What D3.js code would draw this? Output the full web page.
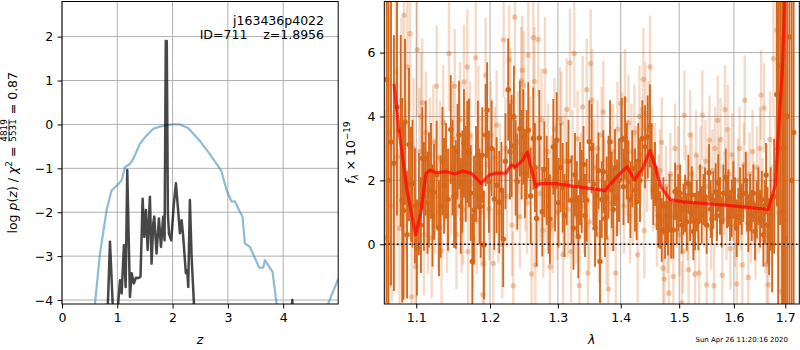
<!DOCTYPE html>
<html>
<head>
<meta charset="utf-8">
<script src="https://cdn.jsdelivr.net/npm/d3@7"></script>
<style>
body { margin: 0; background: #fff; }
svg { font-family: "DejaVu Sans", sans-serif; }
text { white-space: pre; }
</style>
</head>
<body>
<svg id="chart" width="800" height="350"></svg>
<script>
// left panel: redshift probability curves
var chiZ = [0.50,0.596,0.687,0.807,0.897,0.988,1.079,1.139,1.229,1.29,1.41,1.53,1.65,1.77,1.89,2.00,2.13,2.28,2.49,2.67,2.88,2.977,3.067,3.127,3.217,3.265,3.307,3.398,3.566,3.64,3.669,3.808,3.88,3.95,4.30,4.62,4.813,4.995];
var chiLogP = [-5.6,-4.08,-2.94,-1.95,-1.50,-1.40,-1.27,-0.97,-0.90,-0.78,-0.44,-0.25,-0.10,-0.05,-0.02,0.0,0.0,-0.08,-0.37,-0.67,-1.05,-1.50,-1.76,-1.75,-1.99,-2.10,-2.71,-2.79,-3.26,-3.26,-3.09,-3.36,-4.08,-4.9,-5.6,-4.9,-4.08,-3.52];

var pzZ = [0.80,0.868,0.916,0.96,1.048,1.079,1.12,1.151,1.18,1.229,1.26,1.30,1.337,1.38,1.42,1.458,1.488,1.518,1.549,1.59,1.62,1.65,1.668,1.71,1.753,1.79,1.83,1.855,1.877,1.895,1.915,1.935,1.975,2.024,2.06,2.10,2.133,2.163,2.19,2.24,2.265,2.283,2.313,2.344,2.386,2.45,4.12,4.165,4.21,4.995];
var pzLogP = [-5.2,-2.67,-4.07,-5.0,-3.55,-3.85,-2.75,-3.70,-1.04,-3.93,-3.39,-3.62,-3.49,-3.5,-3.47,-1.69,-2.56,-1.95,-2.86,-1.65,-3.17,-2.26,-2.1,-2.94,-2.14,-2.79,-2.10,-2.64,1.90,1.90,-2.03,-2.49,-2.64,-1.80,-1.34,-1.95,-2.48,-2.18,-2.52,-3.39,-3.32,-3.70,-1.72,-3.02,-4.08,-5.2,-5.2,-4.0,-5.2,-5.2];

// right panel: spectrum (dark and light grism), model
var darkLam = [1.0623,1.0645,1.0677,1.0714,1.0753,1.0800,1.0819,1.0837,1.0855,1.0881,
  1.0906,1.0932,1.0951,1.0983,1.1009,1.1035,1.1061,1.1078,1.1100,1.1122,
  1.1146,1.1166,1.1193,1.1213,1.1233,1.1268,1.1299,1.1321,1.1345,1.1366,
  1.1393,1.1420,1.1457,1.1481,1.1501,1.1525,1.1549,1.1569,1.1593,1.1614,
  1.1637,1.1661,1.1682,1.1706,1.1730,1.1752,1.1775,1.1803,1.1830,1.1851,
  1.1868,1.1890,1.1914,1.1938,1.1959,1.1985,1.2023,1.2060,1.2094,1.2131,
  1.2163,1.2188,1.2220,1.2260,1.2285,1.2310,1.2343,1.2368,1.2392,1.2431,
  1.2456,1.2480,1.2505,1.2530,1.2554,1.2589,1.2628,1.2653,1.2678,1.2718,
  1.2763,1.2793,1.2829,1.2856,1.2879,1.2930,1.2956,1.2982,1.3010,1.3041,
  1.3074,1.3102,1.3136,1.3164,1.3213,1.3241,1.3265,1.3293,1.3317,1.3344,
  1.3371,1.3399,1.3423,1.3450,1.3491,1.3529,1.3555,1.3582,1.3609,1.3638,
  1.3662,1.3691,1.3716,1.3743,1.3771,1.3800,1.3825,1.3852,1.3879,1.3906,
  1.3939,1.3972,1.4016,1.4046,1.4071,1.4101,1.4126,1.4162,1.4192,1.4238,
  1.4266,1.4293,1.4322,1.4361,1.4407,1.4453,1.4492,1.4521,1.4549,1.4578,
  1.4607,1.4635,1.4665,1.4694,1.4723,1.4752,1.4778,1.4804,1.4830,1.4857,
  1.4897,1.4927,1.4957,1.4985,1.5015,1.5045,1.5074,1.5104,1.5134,1.5163,
  1.5194,1.5224,1.5253,1.5283,1.5314,1.5343,1.5373,1.5404,1.5433,1.5464,
  1.5495,1.5537,1.5568,1.5592,1.5616,1.5660,1.5684,1.5708,1.5740,1.5772,
  1.5802,1.5847,1.5871,1.5896,1.5927,1.5959,1.5989,1.6021,1.6053,1.6084,
  1.6116,1.6148,1.6179,1.6225,1.6249,1.6274,1.6307,1.6340,1.6371,1.6404,
  1.6437,1.6468,1.6501,1.6535,1.6566,1.6595,1.6619,1.6649,1.6678,1.6708,
  1.6738,1.6777,1.6831,1.6857,1.6896,1.6936,1.6966,1.6996,1.7036,1.7082,
  1.7127,1.7168];
var darkFlux = [5.16,2.0,3.2,2.54,4.3,3.55,1.38,1.06,3.83,0.3,
  3.12,1.88,1.9,1.2,-0.1,1.26,0.6,2.69,1.5,2.69,
  1.3,1.70,2.3,0.9,1.64,2.17,0.5,1.18,2.6,1.83,
  2.3,1.4,3.59,2.4,1.49,1.56,2.9,3.42,1.2,1.96,
  3.16,2.2,2.89,2.86,1.6,-0.54,1.07,2.2,2.79,1.5,
  1.18,2.79,-0.02,3.42,4.2,1.96,3.0,1.42,1.85,1.32,
  1.7,0.16,2.6,4.84,2.9,3.08,3.99,2.4,1.96,3.62,
  2.8,3.36,2.22,2.8,3.57,1.51,3.31,2.4,0.81,3.33,
  1.02,2.34,2.0,1.2,0.79,3.05,1.8,3.26,1.3,2.4,
  1.77,0.9,1.9,2.6,1.38,0.5,2.18,1.4,0.24,1.9,
  1.65,2.5,0.9,1.38,3.21,3.0,1.88,0.5,1.54,2.3,
  -0.54,1.4,2.27,0.8,1.45,2.1,3.21,1.7,1.09,2.4,
  1.45,2.0,3.28,1.8,3.33,2.6,1.96,1.4,2.37,1.70,
  1.33,2.6,2.0,3.31,3.05,3.36,3.70,2.6,1.70,2.2,
  1.45,0.9,0.76,0.45,1.2,0.45,0.9,0.45,1.3,0.45,
  0.45,1.65,0.9,1.3,1.6,0.6,1.1,1.28,0.7,1.9,
  1.0,1.54,0.4,0.71,1.2,0.71,1.6,0.92,1.4,1.5,
  0.6,2.24,1.1,0.8,1.38,1.64,0.9,1.92,1.2,0.7,
  1.6,2.1,1.3,1.45,0.9,1.12,1.7,1.3,0.5,0.86,
  1.5,1.1,1.6,2.0,1.2,0.66,1.3,0.9,1.6,0.4,
  1.1,1.5,0.8,1.4,0.3,1.0,2.17,0.6,0.24,1.1,
  0.0,1.5,4.69,3.0,5.6,1.0,3.0,0.19,4.0,6.49,
  2.0,3.5];
var darkErr = [7.0,6.0,4.5,4.0,3.4,3.0,3.2,2.8,2.6,2.0,
  2.4,1.8,2.0,1.8,1.5,1.6,1.5,1.6,1.7,1.8,
  1.6,1.8,1.5,1.6,1.5,1.7,1.5,1.6,1.7,1.5,
  1.5,1.6,1.7,1.5,1.6,1.7,1.5,1.7,1.5,1.6,
  1.7,1.5,1.6,1.7,1.5,1.5,1.7,1.5,1.7,1.5,
  1.6,1.5,1.7,1.6,1.5,1.6,1.5,1.6,1.5,1.6,
  1.5,1.5,1.5,1.6,1.5,1.6,1.6,1.5,1.5,1.5,
  1.4,1.5,1.4,1.4,1.5,1.5,1.6,1.4,1.5,1.5,
  1.4,1.5,1.4,1.5,1.4,1.5,1.4,1.5,1.4,1.4,
  1.4,1.3,1.3,1.3,1.4,1.3,1.3,1.2,1.3,1.3,
  1.3,1.2,1.3,1.3,1.3,1.4,1.3,1.2,1.3,1.2,
  1.3,1.2,1.3,1.2,1.3,1.3,1.3,1.2,1.3,1.2,
  1.2,1.3,1.3,1.2,1.3,1.2,1.3,1.2,1.2,1.3,
  1.2,1.2,1.3,1.2,1.3,1.3,1.3,1.2,1.1,1.0,
  1.0,1.0,0.9,1.0,0.9,0.9,0.9,0.8,0.9,0.9,
  0.9,0.9,0.9,0.9,0.9,0.9,0.8,0.9,0.9,0.9,
  0.9,0.9,0.9,0.9,0.8,0.9,0.9,0.9,0.8,0.9,
  0.9,0.9,0.9,0.8,0.9,0.9,0.8,0.9,0.9,0.8,
  0.9,0.9,0.8,0.9,0.8,0.9,0.9,0.8,0.9,0.9,
  0.9,0.8,0.9,0.9,0.8,0.9,0.9,0.8,0.9,0.9,
  0.9,0.9,0.9,0.9,1.0,1.0,1.0,1.2,1.2,1.3,
  1.5,1.8,3.5,6.0,5.0,7.0,8.0,8.0,9.0,9.0,
  10.0,10.0];

var lightLam = [1.0608,1.0649,1.0689,1.0735,1.0756,1.0785,1.0810,1.0842,1.0865,1.0884,
  1.0919,1.0941,1.0964,1.0992,1.1013,1.1041,1.1061,1.1078,1.1100,1.1126,
  1.1152,1.1180,1.1202,1.1223,1.1246,1.1268,1.1289,1.1312,1.1334,1.1356,
  1.1379,1.1406,1.1433,1.1461,1.1488,1.1511,1.1535,1.1556,1.1583,1.1604,
  1.1624,1.1637,1.1658,1.1682,1.1692,1.1720,1.1741,1.1761,1.1799,1.1812,
  1.1837,1.1858,1.1879,1.1900,1.1914,1.1938,1.1963,1.1992,1.2013,1.2046,
  1.2070,1.2094,1.2120,1.2141,1.2174,1.2194,1.2220,1.2242,1.2275,1.2292,
  1.2314,1.2333,1.2358,1.2380,1.2402,1.2431,1.2450,1.2465,1.2487,1.2512,
  1.2535,1.2554,1.2579,1.2604,1.2628,1.2646,1.2660,1.2683,1.2702,1.2728,
  1.2751,1.2778,1.2803,1.2826,1.2849,1.2879,1.2902,1.2925,1.2948,1.2971,
  1.2994,1.3032,1.3052,1.3078,1.3101,1.3135,1.3156,1.3187,1.3203,1.3226,
  1.3254,1.3281,1.3305,1.3333,1.3360,1.3386,1.3410,1.3450,1.3470,1.3491,
  1.3513,1.3534,1.3566,1.3598,1.3622,1.3646,1.3689,1.3716,1.3743,1.3767,
  1.3797,1.3825,1.3849,1.3874,1.3918,1.3947,1.3972,1.4000,1.4026,1.4054,
  1.4071,1.4104,1.4129,1.4154,1.4179,1.4204,1.4229,1.4255,1.4283,1.4313,
  1.4339,1.4378,1.4395,1.4415,1.4441,1.4466,1.4492,1.4518,1.4544,1.4578,
  1.4613,1.4639,1.4665,1.4694,1.4717,1.4740,1.4769,1.4795,1.4818,1.4844,
  1.4871,1.4897,1.4927,1.4953,1.4980,1.5006,1.5045,1.5068,1.5091,1.5122,
  1.5149,1.5167,1.5194,1.5221,1.5247,1.5283,1.5301,1.5328,1.5355,1.5382,
  1.5415,1.5446,1.5473,1.5495,1.5519,1.5546,1.5574,1.5601,1.5629,1.5647,
  1.5675,1.5697,1.5721,1.5749,1.5782,1.5814,1.5833,1.5861,1.5883,1.5908,
  1.5933,1.5965,1.5993,1.6021,1.6053,1.6078,1.6106,1.6135,1.6160,1.6188,
  1.6207,1.6240,1.6274,1.6297,1.6327,1.6356,1.6385,1.6414,1.6443,1.6472,
  1.6501,1.6521,1.6550,1.6579,1.6609,1.6632,1.6664,1.6698,1.6728,1.6763,
  1.6797,1.6831,1.6866,1.6910,1.6946,1.6982];
var lightFlux = [0.2,3.5,1.2,5.39,2.74,0.5,4.5,7.17,2.0,5.55,
  6.59,-1.64,3.0,-0.7,6.09,2.9,4.0,4.43,0.3,3.5,
  1.0,2.8,0.2,3.2,1.5,4.95,1.0,2.7,-0.2,3.8,
  2.2,0.9,5.97,2.0,3.3,4.95,0.3,2.6,3.9,0.8,
  1.07,5.08,2.5,5.55,-0.23,3.4,1.9,0.2,5.84,0.76,
  3.9,2.2,1.0,-1.58,-0.6,5.29,2.5,1.1,3.4,-0.6,
  2.7,3.73,1.0,2.2,0.0,6.4,3.0,1.5,5.78,4.44,
  0.6,-1.3,7.11,2.0,3.2,0.86,5.11,5.45,4.98,2.0,
  1.3,5.92,3.0,-0.93,6.47,5.1,-0.65,2.4,6.41,1.6,
  3.9,0.44,5.42,1.5,2.9,-0.7,1.9,0.6,3.6,2.3,
  1.0,3.94,3.8,-0.33,2.6,4.22,1.1,5.68,-0.23,2.7,
  5.97,0.9,3.3,-1.29,2.0,4.3,1.2,4.84,-0.9,0.7,
  5.66,4.51,2.4,1.0,3.0,0.3,3.42,4.14,1.8,0.2,
  -1.4,2.5,1.3,2.9,-0.9,3.6,1.8,4.41,3.26,1.2,
  4.51,2.4,3.8,0.9,2.9,1.5,3.5,2.2,-0.33,4.0,
  2.8,5.16,0.43,4.1,2.5,3.6,5.55,2.9,1.8,2.4,
  0.6,1.5,2.3,3.19,-0.75,-1.09,1.8,0.4,-1.53,2.2,
  0.9,-1.01,3.0,1.2,2.4,0.3,-1.84,-0.23,4.04,1.8,
  0.8,-0.8,3.42,2.2,1.0,-0.93,2.79,1.5,-0.9,2.4,
  4.04,1.2,2.6,-1.27,1.8,3.26,0.5,2.3,-1.3,3.0,
  1.2,3.88,2.0,3.28,-0.97,1.6,4.22,0.8,3.59,2.2,
  -0.13,2.8,1.4,0.6,-1.24,2.0,3.0,1.1,-0.65,2.5,
  4.51,1.6,-1.04,2.2,0.7,2.9,1.3,0.2,2.4,1.0,
  3.0,4.67,1.4,4.27,0.4,-0.63,-1.27,3.28,0.9,5.81,
  2.0,6.7,1.0,-1.48,3.0,0.78];
var lightErr = [4.0,3.5,3.0,2.8,2.8,2.5,2.6,2.5,2.3,2.4,
  2.4,2.2,2.2,2.1,2.1,2.0,2.0,2.0,1.9,1.9,
  1.9,1.8,1.9,1.8,1.8,1.9,1.8,1.8,1.8,1.8,
  1.7,1.8,1.8,1.7,1.8,1.8,1.7,1.7,1.8,1.7,
  1.7,1.8,1.7,1.8,1.7,1.7,1.6,1.7,1.8,1.7,
  1.7,1.6,1.7,1.7,1.7,1.8,1.7,1.6,1.7,1.7,
  1.6,1.7,1.6,1.6,1.7,1.8,1.6,1.6,1.7,1.7,
  1.6,1.7,1.8,1.6,1.6,1.6,1.7,1.7,1.7,1.6,
  1.6,1.8,1.6,1.6,1.8,1.7,1.6,1.6,1.8,1.5,
  1.6,1.5,1.7,1.5,1.5,1.6,1.5,1.5,1.6,1.5,
  1.5,1.6,1.6,1.6,1.5,1.6,1.5,1.7,1.6,1.5,
  1.7,1.5,1.5,1.6,1.5,1.6,1.5,1.6,1.6,1.5,
  1.7,1.6,1.5,1.5,1.5,1.5,1.5,1.6,1.5,1.5,
  1.6,1.5,1.5,1.5,1.5,1.5,1.5,1.6,1.5,1.5,
  1.6,1.5,1.5,1.5,1.5,1.5,1.5,1.5,1.5,1.6,
  1.5,1.6,1.5,1.6,1.5,1.5,1.6,1.4,1.4,1.4,
  1.3,1.3,1.3,1.4,1.3,1.3,1.3,1.3,1.3,1.3,
  1.3,1.3,1.4,1.3,1.3,1.3,1.3,1.3,1.4,1.3,
  1.3,1.3,1.4,1.3,1.3,1.3,1.4,1.3,1.3,1.3,
  1.4,1.3,1.3,1.3,1.3,1.4,1.3,1.3,1.3,1.3,
  1.3,1.4,1.3,1.3,1.3,1.3,1.4,1.3,1.4,1.3,
  1.3,1.3,1.3,1.3,1.3,1.3,1.3,1.3,1.3,1.3,
  1.4,1.3,1.3,1.3,1.3,1.3,1.3,1.3,1.3,1.3,
  1.3,1.4,1.3,1.4,1.3,1.3,1.4,1.5,1.6,1.8,
  2.0,2.2,2.5,3.0,3.5,4.0];

var modelLam = [1.0714,1.0778,1.0880,1.0992,1.1060,1.1127,1.1180,1.1267,1.1400,1.1508,
  1.1624,1.1738,1.1877,1.1990,1.2086,1.2229,1.2301,1.2373,1.2471,1.2544,
  1.2590,1.2668,1.2717,1.2969,1.3221,1.3480,1.3743,1.3940,1.4106,1.4229,
  1.4364,1.4491,1.4584,1.4677,1.4840,1.5064,1.5587,1.6133,1.6660,1.6800,
  1.6943,1.7005];
var modelFlux = [5.03,3.57,1.70,0.29,1.0,2.22,2.32,2.24,2.27,2.20,
  2.29,2.22,1.91,2.17,2.23,2.23,2.48,2.43,2.63,2.89,
  2.43,1.80,1.90,1.90,1.82,1.76,1.68,2.12,2.43,2.01,
  2.37,2.93,2.43,1.80,1.40,1.33,1.26,1.18,1.09,1.85,
  5.55,8.5];

var zTicks = [0, 1, 2, 3, 4];
var logPTicks = [-4, -3, -2, -1, 0, 1, 2];
var lamTicks = [1.1, 1.2, 1.3, 1.4, 1.5, 1.6, 1.7];
var fluxTicks = [0, 2, 4, 6];

var fontSize = 12.5;
var orange = "#d5661a";

var svg = d3.select("#chart");

var pL = {left: 62, right: 338.2, top: 1.5, bottom: 304};
var pR = {left: 384.3, right: 799.3, top: 1.5, bottom: 304};

var xz = d3.scaleLinear().domain([0, 4.995]).range([pL.left, pL.right]);
var yp = d3.scaleLinear().domain([-4.09, 2.80]).range([pL.bottom, pL.top]);
var xl = d3.scaleLog().domain([1.0593, 1.7283]).range([pR.left, pR.right]);
var yf = d3.scaleLinear().domain([-1.87, 7.6]).range([pR.bottom, pR.top]);

var defs = svg.append("defs");
[["clipL", pL], ["clipR", pR]].forEach(function(c) {
    defs.append("clipPath").attr("id", c[0]).append("rect")
        .attr("x", c[1].left).attr("y", c[1].top)
        .attr("width", c[1].right - c[1].left).attr("height", c[1].bottom - c[1].top);
});

//grid lines below everything else
function drawGrid(xs, ys, xt, yt, p) {
    var g = svg.append("g").attr("stroke", "#b0b0b0").attr("stroke-width", 1);
    g.selectAll("line.gx").data(xt).enter().append("line")
        .attr("x1", xs).attr("x2", xs).attr("y1", p.top).attr("y2", p.bottom);
    g.selectAll("line.gy").data(yt).enter().append("line")
        .attr("y1", ys).attr("y2", ys).attr("x1", p.left).attr("x2", p.right);
}
drawGrid(xz, yp, zTicks, logPTicks, pL);
drawGrid(xl, yf, lamTicks, fluxTicks, pR);

// ---- left panel curves
var gL = svg.append("g").attr("clip-path", "url(#clipL)");
var zLine = d3.line()
    .x(function(d) { return xz(d[0]); })
    .y(function(d) { return yp(d[1]); });

gL.append("path")
    .attr("d", zLine(d3.zip(chiZ, chiLogP)))
    .attr("fill", "none").attr("stroke", "#1f77b4")
    .attr("stroke-opacity", 0.5).attr("stroke-width", 2.2)
    .attr("stroke-linejoin", "round");

gL.append("path")
    .attr("d", zLine(d3.zip(pzZ, pzLogP)))
    .attr("fill", "none").attr("stroke", "#000")
    .attr("stroke-opacity", 0.72).attr("stroke-width", 2.5)
    .attr("stroke-linejoin", "round");

// ---- right panel spectrum
var gR = svg.append("g").attr("clip-path", "url(#clipR)");

function drawSpec(lam, flux, err, opts) {
    var pts = lam.map(function(l, i) {
        return {l: l, f: flux[i], e: err[i]};
    });
    var g = gR.append("g");
    g.selectAll("line").data(pts).enter().append("line")
        .attr("x1", function(d) { return xl(d.l); })
        .attr("x2", function(d) { return xl(d.l); })
        .attr("y1", function(d) { return yf(d.f - d.e); })
        .attr("y2", function(d) { return yf(d.f + d.e); })
        .attr("stroke", orange)
        .attr("stroke-opacity", opts.barOpacity)
        .attr("stroke-width", opts.barWidth);
    g.selectAll("circle").data(pts).enter().append("circle")
        .attr("cx", function(d) { return xl(d.l); })
        .attr("cy", function(d) { return yf(d.f); })
        .attr("r", 2.7)
        .attr("fill", orange)
        .attr("fill-opacity", opts.dotOpacity);
}

drawSpec(lightLam, lightFlux, lightErr, {barOpacity: 0.24, barWidth: 2.4, dotOpacity: 0.35});
drawSpec(darkLam, darkFlux, darkErr, {barOpacity: 1, barWidth: 1.85, dotOpacity: 1});

var lamLine = d3.line()
    .x(function(d) { return xl(d[0]); })
    .y(function(d) { return yf(d[1]); });

gR.append("path")
    .attr("d", lamLine(d3.zip(modelLam, modelFlux)))
    .attr("fill", "none").attr("stroke", "red")
    .attr("stroke-opacity", 0.72).attr("stroke-width", 3.2)
    .attr("stroke-linejoin", "round");

gR.append("line")
    .attr("x1", pR.left).attr("x2", pR.right)
    .attr("y1", yf(0)).attr("y2", yf(0))
    .attr("stroke", "#000").attr("stroke-width", 1.6)
    .attr("stroke-dasharray", "1.6,2.6");

// ---- axes
function styleAxis(g) {
    g.select(".domain").remove();
    g.selectAll(".tick line").attr("stroke", "#000").attr("stroke-width", 1);
    g.selectAll(".tick text")
        .attr("fill", "#000")
        .style("font-family", "DejaVu Sans")
        .style("font-size", fontSize + "px");
}

svg.append("g").attr("transform", "translate(0," + pL.bottom + ")")
    .call(d3.axisBottom(xz).tickValues(zTicks).tickFormat(d3.format("d")).tickSize(4.4).tickPadding(4.4))
    .call(styleAxis);
svg.append("g").attr("transform", "translate(" + pL.left + ",0)")
    .call(d3.axisLeft(yp).tickValues(logPTicks).tickFormat(d3.format("d")).tickSize(4.4).tickPadding(4.4))
    .call(styleAxis);
svg.append("g").attr("transform", "translate(0," + pR.bottom + ")")
    .call(d3.axisBottom(xl).tickValues(lamTicks).tickFormat(d3.format(".1f")).tickSize(4.4).tickPadding(4.4))
    .call(styleAxis);
svg.append("g").attr("transform", "translate(" + pR.left + ",0)")
    .call(d3.axisLeft(yf).tickValues(fluxTicks).tickFormat(d3.format("d")).tickSize(4.4).tickPadding(4.4))
    .call(styleAxis);

[pL, pR].forEach(function(p) {
    svg.append("rect")
        .attr("x", p.left).attr("y", p.top)
        .attr("width", p.right - p.left).attr("height", p.bottom - p.top)
        .attr("fill", "none").attr("stroke", "#000").attr("stroke-width", 1);
});

// ---- labels
svg.append("text").attr("x", (pL.left + pL.right) / 2).attr("y", 344)
    .attr("text-anchor", "middle").style("font-size", fontSize + "px")
    .style("font-style", "italic").text("z");
svg.append("text").attr("x", (pR.left + pR.right) / 2).attr("y", 344)
    .attr("text-anchor", "middle").style("font-size", fontSize + "px")
    .style("font-style", "italic").text("λ");

svg.append("text").attr("x", 324).attr("y", 24.5)
    .attr("text-anchor", "end").style("font-size", fontSize + "px").text("j163436p4022");
svg.append("text").attr("x", 324).attr("y", 38.5)
    .attr("text-anchor", "end").style("font-size", fontSize + "px").text("ID=711    z=1.8956");

svg.append("text").attr("x", 741.7).attr("y", 341.5)
    .attr("text-anchor", "middle").style("font-size", "7px").text("Sun Apr 26 11:20:16 2020");

// left y label with stacked fraction
var lg = svg.append("g")
    .attr("transform", "translate(16.5," + (pL.top + pL.bottom) / 2 + ") rotate(-90)")
    .style("font-size", fontSize + "px");
var part1 = lg.append("text");
part1.append("tspan").text("log ");
part1.append("tspan").style("font-style", "italic").text("p");
part1.append("tspan").text("(");
part1.append("tspan").style("font-style", "italic").text("z");
part1.append("tspan").text(") / ");
part1.append("tspan").style("font-style", "italic").text("χ");
part1.append("tspan").style("font-size", "8.8px").attr("dy", -5).text("2");
part1.append("tspan").attr("dy", 5).text(" = ");
var num = lg.append("text").attr("text-anchor", "middle").attr("y", -9.5)
    .style("font-size", "8.8px").text("4819");
var den = lg.append("text").attr("text-anchor", "middle").attr("y", -0.5)
    .style("font-size", "8.8px").text("5531");
var part2 = lg.append("text").text(" = 0.87");
var w1 = part1.node().getComputedTextLength();
var fw = Math.max(num.node().getComputedTextLength(), den.node().getComputedTextLength()) + 2;
var w2 = part2.node().getComputedTextLength();
var x0 = -(w1 + fw + w2) / 2;
part1.attr("x", x0);
num.attr("x", x0 + w1 + fw / 2);
den.attr("x", x0 + w1 + fw / 2);
lg.append("line")
    .attr("x1", x0 + w1 + 1).attr("x2", x0 + w1 + fw - 1)
    .attr("y1", -7.6).attr("y2", -7.6)
    .attr("stroke", "#000").attr("stroke-width", 0.7);
part2.attr("x", x0 + w1 + fw);

// right y label
var rt = svg.append("g")
    .attr("transform", "translate(355," + (pR.top + pR.bottom) / 2 + ") rotate(-90)")
    .append("text").attr("text-anchor", "middle").style("font-size", fontSize + "px");
rt.append("tspan").style("font-style", "italic").text("f");
rt.append("tspan").style("font-style", "italic").style("font-size", "8.8px").attr("dy", 2.5).text("λ");
rt.append("tspan").attr("dy", -2.5).text(" × 10");
rt.append("tspan").style("font-size", "8.8px").attr("dy", -5).text("−19");
</script>
</body>
</html>
